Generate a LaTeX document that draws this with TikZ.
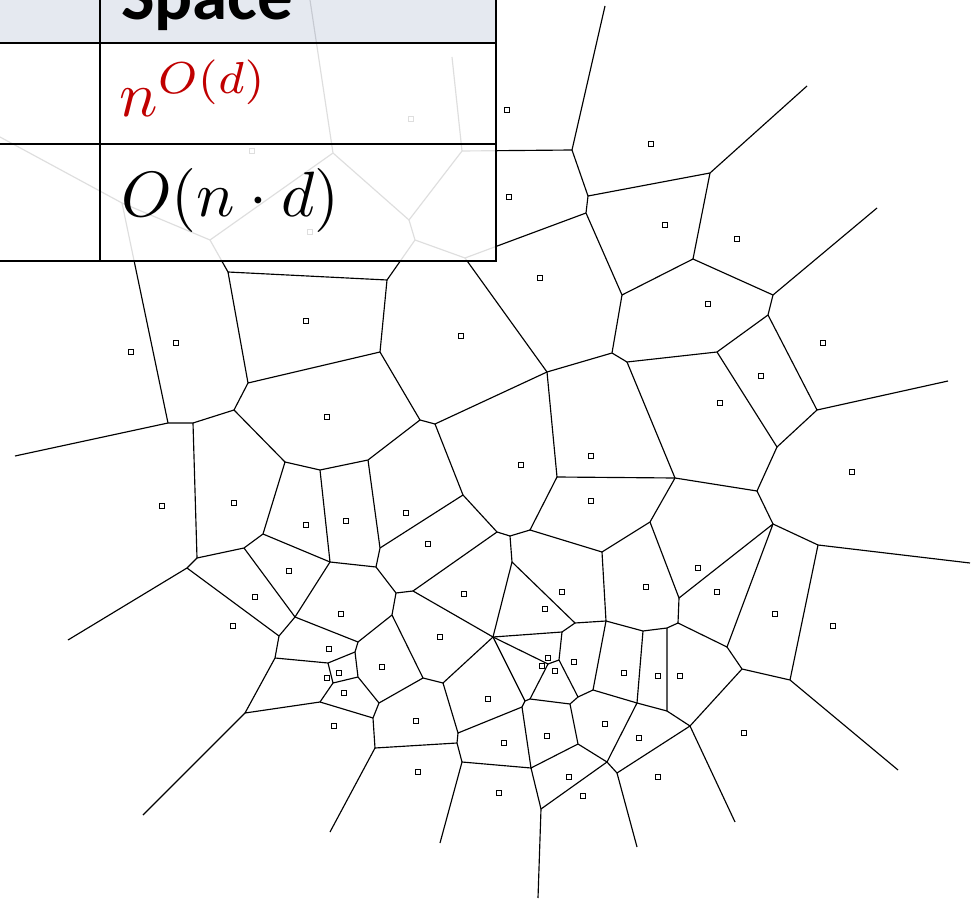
\documentclass[tikz,border=0pt]{standalone}
\usepackage{fontspec}
\newfontfamily\headfont{Carlito}
\usepackage{tikz}
\usetikzlibrary{positioning}
\definecolor{polyred}{RGB}{192,0,0}
\definecolor{headgray}{RGB}{226,230,239}

\begin{document}
\begin{tikzpicture}[
    x=1pt, y=-1pt,
    vedge/.style={line width=1.15pt, line join=round},
    site/.style={rectangle, draw, fill=white, line width=1.2pt, minimum size=5.5pt, inner sep=0pt},
    tabline/.style={line width=1.8pt},
    celltext/.style={anchor=base west, inner sep=0pt}
]
\clip (0,0) rectangle (972,901);
\fill[white] (0,0) rectangle (972,901);

% Voronoi vertices under the table
\coordinate (T1) at (462,151); \coordinate (T2) at (409,220); \coordinate (T3) at (333,153);
\coordinate (T4) at (415,240); \coordinate (T5) at (210,240); \coordinate (T6) at (122,203);
\coordinate (V) at (465,258);
\coordinate (rT1) at (452,57); \coordinate (rT3) at (310,0); \coordinate (rT6) at (0,137);

% Voronoi vertices - top right
\coordinate (A1) at (572,150); \coordinate (A2) at (588,196); \coordinate (A3) at (710,173);
\coordinate (A4) at (693,259); \coordinate (A5) at (586,213); \coordinate (A6) at (622,295);
\coordinate (A7) at (773,295);
\coordinate (rA1) at (605,6); \coordinate (rA3) at (807,86); \coordinate (rA7) at (877,208);

% Voronoi vertices - middle
\coordinate (B1) at (547,372); \coordinate (B2) at (612,353); \coordinate (B3) at (627,362);
\coordinate (B4) at (557,477); \coordinate (B5) at (530,530); \coordinate (B6) at (602,552);
\coordinate (B7) at (510,536); \coordinate (B8) at (463,495); \coordinate (B9) at (497,532);
\coordinate (B10) at (512,562);
\coordinate (C1) at (387,280); \coordinate (C2) at (380,352); \coordinate (C3) at (420,420);
\coordinate (C4) at (435,424); \coordinate (C5) at (368,460); \coordinate (C6) at (376,567);
\coordinate (C8) at (380,548);

% Voronoi vertices - right
\coordinate (D1) at (768,315); \coordinate (D2) at (717,352); \coordinate (D3) at (817,410);
\coordinate (D4) at (777,447); \coordinate (D5) at (757,491); \coordinate (D6) at (675,478);
\coordinate (D7) at (773,524); \coordinate (D8) at (818,545);
\coordinate (rD3) at (948,381); \coordinate (rD8) at (970,563);
\coordinate (E1) at (650,522); \coordinate (E2) at (679,598); \coordinate (E3) at (678,623);
\coordinate (E4) at (667,628); \coordinate (E5) at (643,631); \coordinate (E6) at (606,621);
\coordinate (E7) at (727,647); \coordinate (E8) at (742,669); \coordinate (E9) at (790,680);
\coordinate (E10) at (690,726); \coordinate (E11) at (667,711);
\coordinate (rE9) at (898,770); \coordinate (rE10) at (735,822);

% Voronoi vertices - left
\coordinate (F1) at (168,423); \coordinate (F2) at (193,423); \coordinate (F3) at (197,558);
\coordinate (F4) at (234,410); \coordinate (F5) at (248,383); \coordinate (F6) at (228,272);
\coordinate (F7) at (285,462); \coordinate (F8) at (320,470); \coordinate (F9) at (244,548);
\coordinate (F10) at (187,568); \coordinate (F11) at (279,636); \coordinate (F12) at (263,534);
\coordinate (F13) at (330,562);
\coordinate (rF1) at (15,456); \coordinate (rF10) at (68,640);

% Voronoi vertices - lower left
\coordinate (G1) at (396,593); \coordinate (G2) at (413,591); \coordinate (G3) at (392,615);
\coordinate (G4) at (358,642); \coordinate (G5) at (423,678); \coordinate (G6) at (295,617);
\coordinate (G8) at (275,658); \coordinate (G10) at (245,713); \coordinate (G11) at (320,702);
\coordinate (G12) at (373,718); \coordinate (G13) at (379,703); \coordinate (G14) at (375,748);
\coordinate (rG10) at (143,815); \coordinate (rG14) at (330,832);
\coordinate (X1) at (355,652); \coordinate (X2) at (328,663); \coordinate (X3) at (358,677);
\coordinate (X4) at (333,683);

% Voronoi vertices - lower middle
\coordinate (H1) at (493,637); \coordinate (H2) at (443,683); \coordinate (H3) at (458,733);
\coordinate (H4) at (457,743); \coordinate (H5) at (522,707); \coordinate (H6) at (462,762);
\coordinate (H7) at (531,768); \coordinate (H8) at (562,632); \coordinate (H9) at (525,701);
\coordinate (H10) at (575,623); \coordinate (H12) at (593,690); \coordinate (H13) at (578,697);
\coordinate (H14) at (570,704); \coordinate (H15) at (530,699); \coordinate (H16) at (637,703);
\coordinate (H17) at (607,762); \coordinate (H18) at (617,773); \coordinate (H19) at (578,744);
\coordinate (H20) at (541,809);
\coordinate (I1) at (559,660); \coordinate (K1) at (548,664);
\coordinate (rH6) at (440,843); \coordinate (rH18) at (637,847); \coordinate (rH20) at (538,898);

% Edges under the table
\draw[vedge] (rT1) -- (T1) -- (A1);
\draw[vedge] (T1) -- (T2) -- (T3) -- (rT3);
\draw[vedge] (T2) -- (T4) -- (V);
\draw[vedge] (T3) -- (T5) -- (T6) -- (rT6);
\draw[vedge] (T5) -- (F6);
\draw[vedge] (T6) -- (F1);
\draw[vedge] (T4) -- (C1);
\draw[vedge] (V) -- (A5);
\draw[vedge] (V) -- (B1);

% Edges top right
\draw[vedge] (rA1) -- (A1) -- (A2) -- (A3) -- (rA3);
\draw[vedge] (A3) -- (A4) -- (A7) -- (rA7);
\draw[vedge] (A2) -- (A5) -- (A6) -- (A4);
\draw[vedge] (A6) -- (B2) -- (B1);
\draw[vedge] (B2) -- (B3) -- (D2) -- (D1) -- (A7);
\draw[vedge] (D1) -- (D3) -- (rD3);
\draw[vedge] (D2) -- (D4) -- (D3);
\draw[vedge] (D4) -- (D5) -- (D6) -- (B3);
\draw[vedge] (D6) -- (B4) -- (B1);

% Edges middle
\draw[vedge] (B4) -- (B5) -- (B6) -- (E1) -- (D6);
\draw[vedge] (B5) -- (B7) -- (B9) -- (B8) -- (C4) -- (B1);
\draw[vedge] (B7) -- (B10) -- (H10) -- (E6) -- (B6);
\draw[vedge] (B10) -- (H1);

% Edges right
\draw[vedge] (D5) -- (D7) -- (D8) -- (rD8);
\draw[vedge] (E1) -- (E2) -- (D7) -- (E7) -- (E8) -- (E9) -- (rE9);
\draw[vedge] (E9) -- (D8);
\draw[vedge] (E2) -- (E3) -- (E4) -- (E5) -- (E6);
\draw[vedge] (E3) -- (E7);
\draw[vedge] (E8) -- (E10) -- (rE10);
\draw[vedge] (E10) -- (E11) -- (E4);
\draw[vedge] (E11) -- (H16) -- (E5);
\draw[vedge] (E10) -- (H18) -- (rH18);

% Edges lower middle
\draw[vedge] (H18) -- (H17) -- (H16) -- (H12) -- (E6);
\draw[vedge] (H12) -- (H13) -- (H14) -- (H15) -- (H9) -- (H5) -- (H3) -- (H2) -- (H1);
\draw[vedge] (H14) -- (H19) -- (H17) -- (H20) -- (rH20);
\draw[vedge] (H19) -- (H7) -- (H20);
\draw[vedge] (H7) -- (H5);
\draw[vedge] (H7) -- (H6) -- (rH6);
\draw[vedge] (H6) -- (H4) -- (H3);
\draw[vedge] (H4) -- (G14) -- (rG14);
\draw[vedge] (H9) -- (H1) -- (H8) -- (H10);
\draw[vedge] (H8) -- (I1) -- (H13);
\draw[vedge] (H1) -- (K1) -- (I1);
\draw[vedge] (K1) -- (H15);

% Edges lower left
\draw[vedge] (H1) -- (G2) -- (B9);
\draw[vedge] (G2) -- (G1) -- (C6);
\draw[vedge] (G1) -- (G3) -- (G5) -- (H2);
\draw[vedge] (G3) -- (G4) -- (G6);
\draw[vedge] (G5) -- (G13) -- (G12) -- (G14);
\draw[vedge] (G12) -- (G11) -- (G10) -- (rG10);
\draw[vedge] (G10) -- (G8) -- (F11) -- (F10) -- (rF10);
\draw[vedge] (F11) -- (G6) -- (F9);
\draw[vedge] (G6) -- (F13);
\draw[vedge] (G8) -- (X2) -- (X1) -- (G4);
\draw[vedge] (X1) -- (X3) -- (G13);
\draw[vedge] (X2) -- (X4) -- (X3);
\draw[vedge] (X4) -- (G11);

% Edges left
\draw[vedge] (rF1) -- (F1) -- (F2) -- (F4) -- (F5) -- (F6) -- (C1) -- (C2) -- (F5);
\draw[vedge] (F2) -- (F3) -- (F10);
\draw[vedge] (F3) -- (F9) -- (F12) -- (F7) -- (F4);
\draw[vedge] (F7) -- (F8) -- (C5) -- (C3) -- (C2);
\draw[vedge] (C3) -- (C4);
\draw[vedge] (F12) -- (F13) -- (F8);
\draw[vedge] (F13) -- (C6) -- (C8) -- (C5);
\draw[vedge] (C8) -- (B8);

% Sites
\node[site] (s1) at (411,119) {}; \node[site] (s2) at (252,151) {}; \node[site] (s3) at (310,232) {};
\node[site] (s4) at (507,110) {}; \node[site] (s5) at (651,144) {}; \node[site] (s6) at (509,197) {};
\node[site] (s7) at (665,225) {}; \node[site] (s8) at (737,239) {}; \node[site] (s9) at (540,278) {};
\node[site] (s10) at (131,352) {}; \node[site] (s11) at (176,343) {}; \node[site] (s12) at (306,321) {};
\node[site] (s13) at (461,336) {}; \node[site] (s14) at (327,417) {}; \node[site] (s15) at (823,343) {};
\node[site] (s16) at (708,304) {}; \node[site] (s17) at (761,376) {}; \node[site] (s18) at (720,403) {};
\node[site] (s19) at (521,465) {}; \node[site] (s20) at (591,456) {}; \node[site] (s21) at (591,501) {};
\node[site] (s22) at (852,472) {}; \node[site] (s23) at (162,506) {}; \node[site] (s24) at (234,503) {};
\node[site] (s25) at (306,525) {}; \node[site] (s26) at (346,521) {}; \node[site] (s27) at (406,513) {};
\node[site] (s28) at (428,544) {}; \node[site] (s29) at (289,571) {}; \node[site] (s30) at (255,597) {};
\node[site] (s31) at (233,626) {}; \node[site] (s32) at (341,614) {}; \node[site] (s33) at (329,649) {};
\node[site] (s34) at (339,673) {}; \node[site] (s35) at (327,678) {}; \node[site] (s36) at (344,693) {};
\node[site] (s37) at (382,667) {}; \node[site] (s38) at (334,726) {}; \node[site] (s39) at (464,594) {};
\node[site] (s40) at (440,637) {}; \node[site] (s41) at (562,592) {}; \node[site] (s42) at (545,609) {};
\node[site] (s43) at (646,587) {}; \node[site] (s44) at (698,568) {}; \node[site] (s45) at (717,592) {};
\node[site] (s46) at (775,614) {}; \node[site] (s47) at (833,626) {}; \node[site] (s48) at (548,658) {};
\node[site] (s49) at (542,666) {}; \node[site] (s50) at (555,671) {}; \node[site] (s51) at (574,662) {};
\node[site] (s52) at (624,673) {}; \node[site] (s53) at (658,676) {}; \node[site] (s54) at (680,676) {};
\node[site] (s55) at (488,699) {}; \node[site] (s56) at (416,721) {}; \node[site] (s57) at (547,736) {};
\node[site] (s58) at (504,743) {}; \node[site] (s59) at (605,724) {}; \node[site] (s60) at (639,738) {};
\node[site] (s61) at (744,733) {}; \node[site] (s62) at (418,772) {}; \node[site] (s63) at (499,793) {};
\node[site] (s64) at (569,777) {}; \node[site] (s65) at (583,796) {}; \node[site] (s66) at (658,777) {};

% Table overlay
\fill[headgray, fill opacity=0.88] (-10,-10) rectangle (496,43);
\fill[white, fill opacity=0.87] (-10,43) rectangle (496,261);
\draw[tabline] (-10,43) -- (496,43);
\draw[tabline] (-10,144) -- (496,144);
\draw[tabline] (-10,261) -- (497,261);
\draw[tabline] (100,-10) -- (100,261);
\draw[tabline] (496,-10) -- (496,262);

\node[celltext, font=\headfont\bfseries\fontsize{71}{80}\selectfont] (spacehead) at (121,20) {Space};
\node[celltext, text=polyred] (spacepoly) at (119,117) {\scalebox{6.4}{$n^{O(d)}$}};
\node[celltext] (spacelin) at (121,217) {\scalebox{6.4}{$O(n\cdot d)$}};

\end{tikzpicture}
\end{document}
